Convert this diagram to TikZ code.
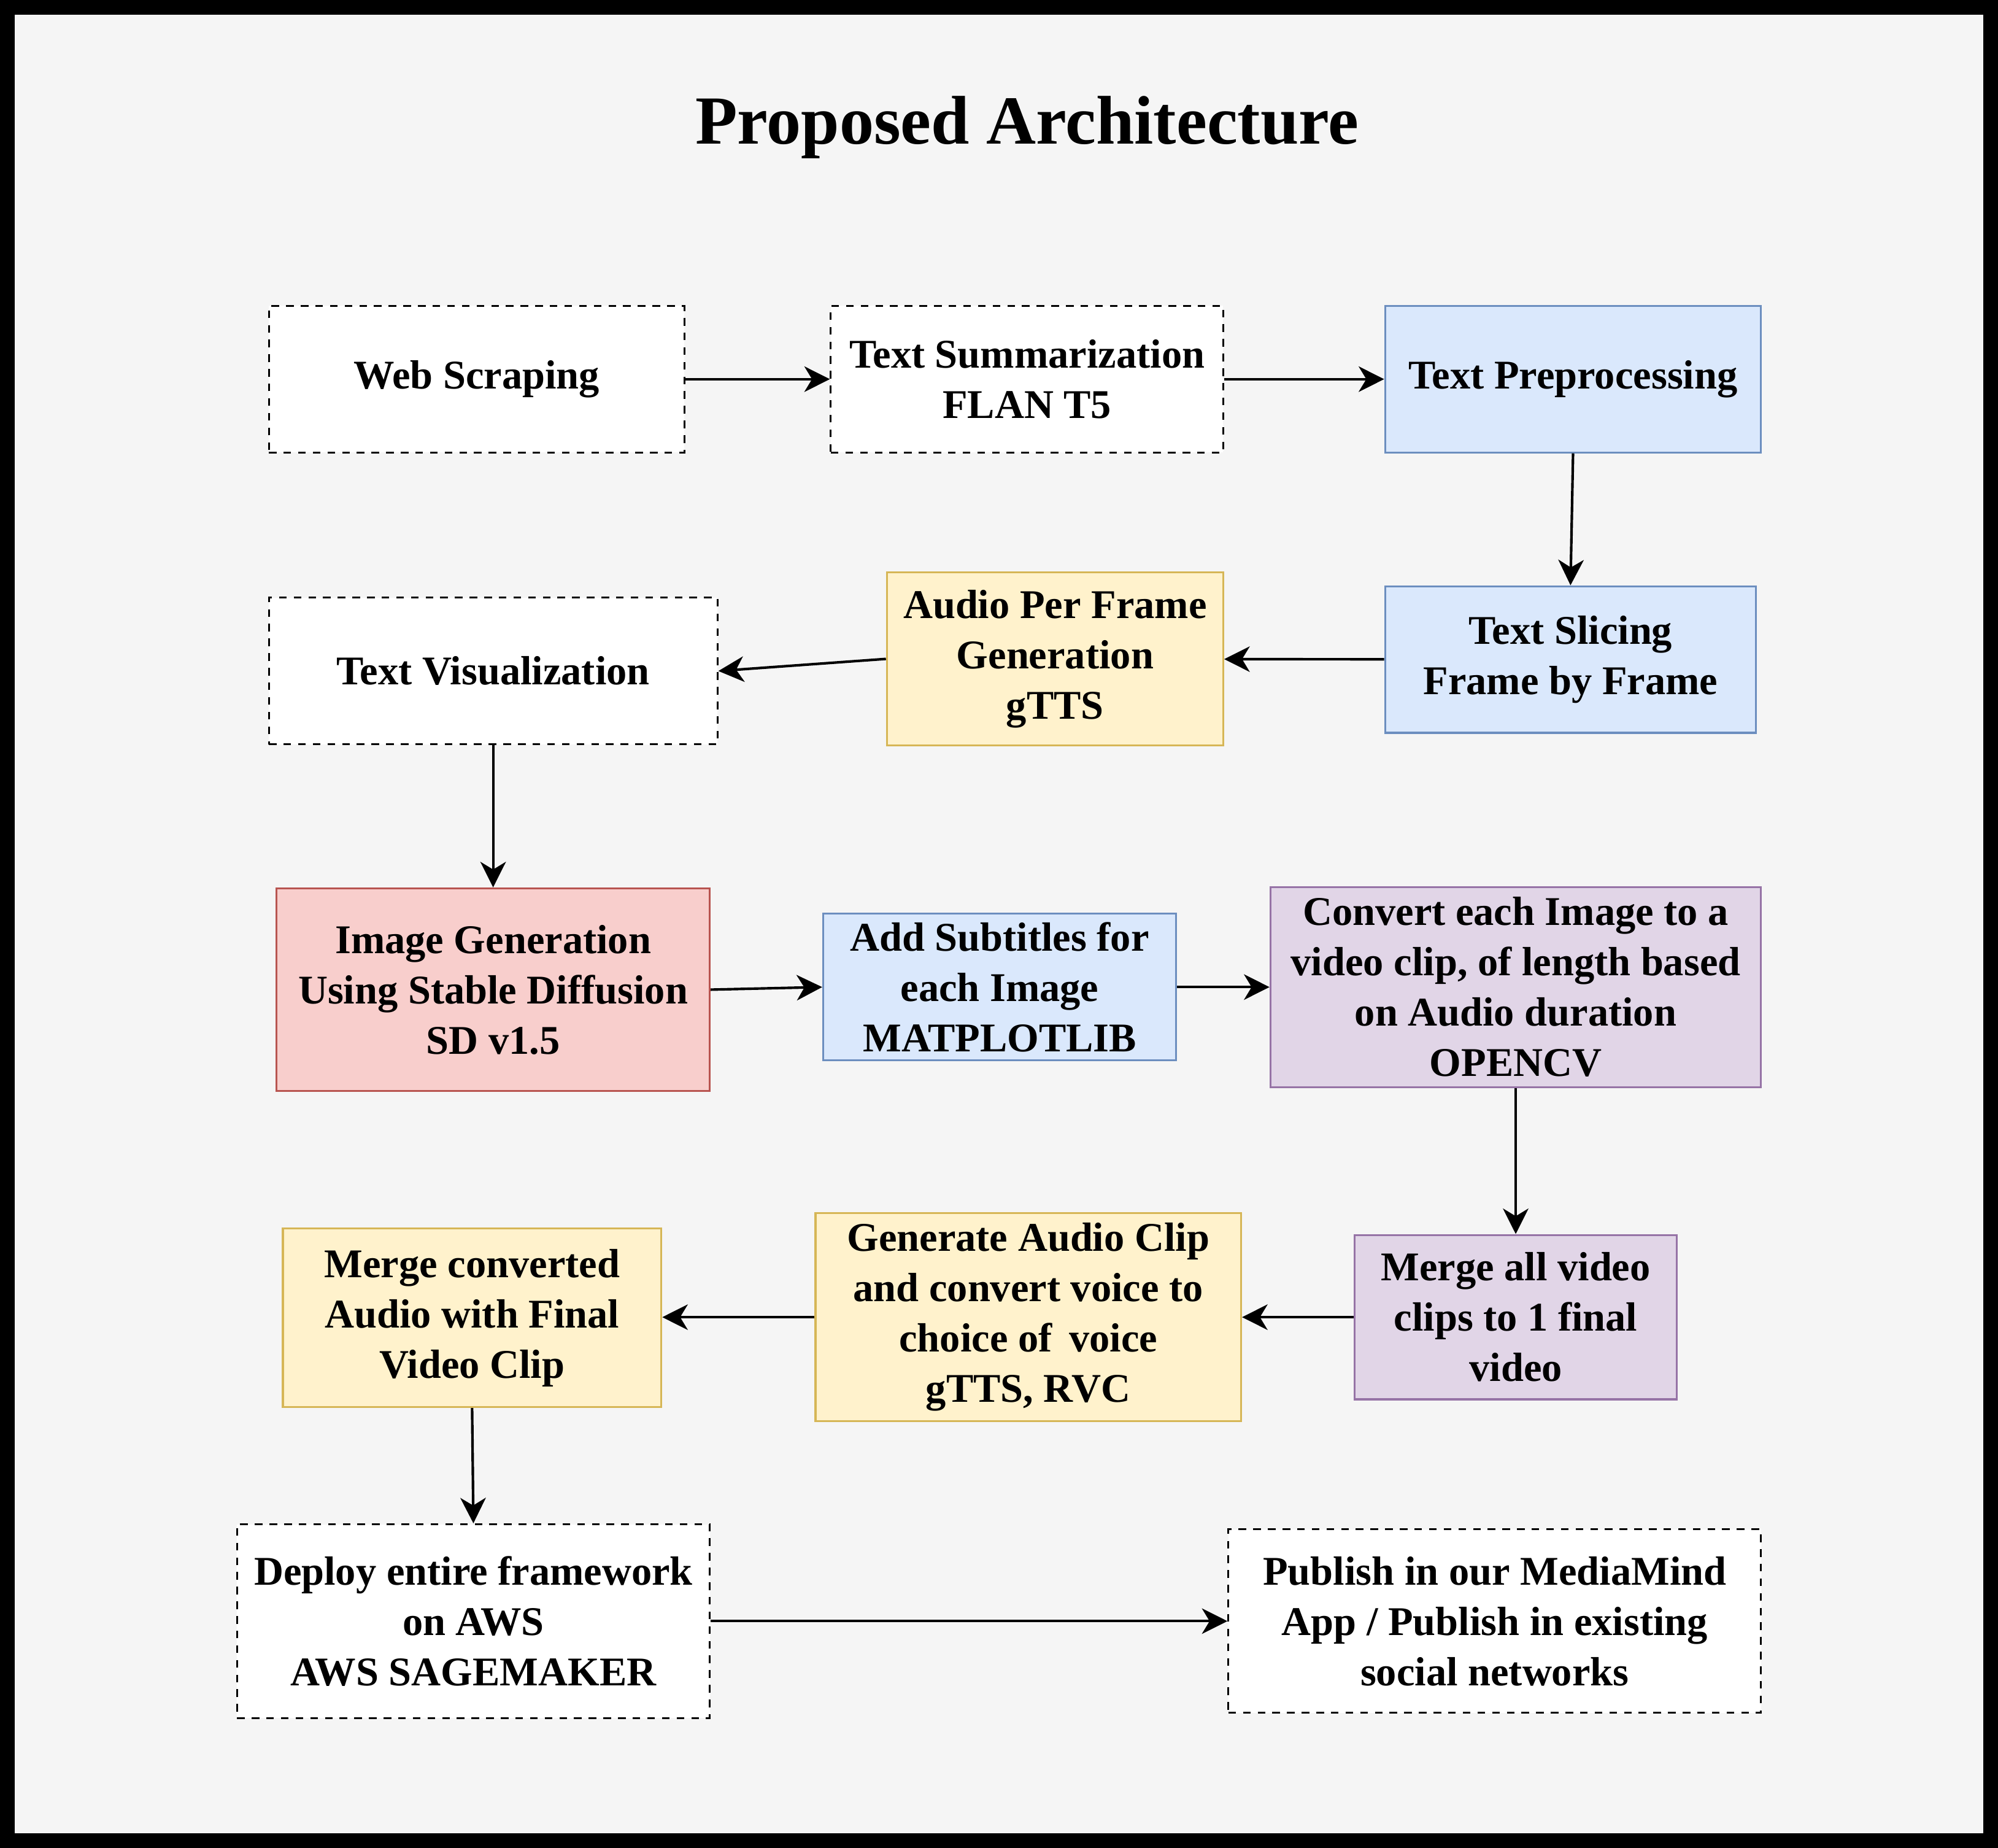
\documentclass[tikz,border=0pt]{standalone}
\usepackage{fontspec}
\setmainfont{Liberation Serif}
\usetikzlibrary{arrows.meta}
\definecolor{bgc}{HTML}{F5F5F5}
\definecolor{bluef}{HTML}{DAE8FC}\definecolor{blued}{HTML}{6C8EBF}
\definecolor{yelf}{HTML}{FFF2CC}\definecolor{yeld}{HTML}{D6B656}
\definecolor{redf}{HTML}{F8CECC}\definecolor{redd}{HTML}{B85450}
\definecolor{purf}{HTML}{E1D5E7}\definecolor{purd}{HTML}{9673A6}
\tikzset{
  box/.style={rectangle, inner sep=0pt, align=center, line width=1.5pt,
    font=\fontsize{32}{39.5}\selectfont\bfseries},
  dbox/.style={box, draw=black, fill=white, dash pattern=on 6pt off 5.5pt},
  bluebox/.style={box, draw=blued, fill=bluef},
  yelbox/.style={box, draw=yeld, fill=yelf},
  redbox/.style={box, draw=redd, fill=redf},
  purbox/.style={box, draw=purd, fill=purf},
  conn/.style={line width=2pt, -{Stealth[length=20pt, width=20pt, inset=6pt]}}
}
\begin{document}
\begin{tikzpicture}[x=1pt,y=-1pt]
\useasboundingbox (0,0) rectangle (1568,1450);
\fill[black] (0,0) rectangle (1568,1450);
\fill[bgc] (11.5,11.5) rectangle (1556.5,1438.5);
\node[font=\fontsize{54}{60}\selectfont\bfseries, inner sep=0pt] (title) at (806,100) {Proposed Architecture};

\node[dbox, minimum width=326pt, minimum height=115pt] (ws) at (374,297.5) {\raisebox{-3pt}{Web Scraping}};
\node[dbox, minimum width=308pt, minimum height=115pt] (ts) at (806,297.5) {Text Summarization\\FLAN T5};
\node[bluebox, minimum width=295pt, minimum height=115pt] (tp) at (1234.5,297.5) {\raisebox{-3pt}{Text Preprocessing}};
\node[bluebox, minimum width=291pt, minimum height=115pt] (sl) at (1232.5,517.5) {Text Slicing\\Frame by Frame};
\node[yelbox, minimum width=264pt, minimum height=136pt] (ap) at (828,517) {Audio Per Frame\\Generation\\gTTS};
\node[dbox, minimum width=352pt, minimum height=115pt] (tv) at (387,526.5) {Text Visualization};
\node[redbox, minimum width=340pt, minimum height=159pt] (ig) at (387,776.5) {Image Generation\\Using Stable Diffusion\\SD v1.5};
\node[bluebox, minimum width=277pt, minimum height=115pt] (as) at (784.5,774.5) {Add Subtitles for\\each Image\\MATPLOTLIB};
\node[purbox, minimum width=385pt, minimum height=157pt] (cv) at (1189.5,774.5) {Convert each Image to a\\video clip, of length based\\on Audio duration\\OPENCV};
\node[purbox, minimum width=253pt, minimum height=129pt] (mv) at (1189.5,1033.5) {Merge all video\\clips to 1 final\\video};
\node[yelbox, minimum width=334pt, minimum height=163pt] (ga) at (807,1033.5) {Generate Audio Clip\\and convert voice to\\choice of\, voice\\gTTS, RVC};
\node[yelbox, minimum width=297pt, minimum height=140pt] (mc) at (370.5,1034) {Merge converted\\Audio with Final\\Video Clip};
\node[dbox, minimum width=371pt, minimum height=152pt] (dp) at (371.5,1272) {Deploy entire framework\\on AWS\\AWS SAGEMAKER};
\node[dbox, minimum width=418pt, minimum height=144pt] (pb) at (1173,1272) {Publish in our MediaMind\\App / Publish in existing\\social networks};

\draw[conn] (ws) -- (ts);
\draw[conn] (ts) -- (tp);
\draw[conn] (tp.south) -- (sl.north);
\draw[conn] (sl) -- (ap);
\draw[conn] (ap.west) -- (tv.east);
\draw[conn] (tv) -- (ig);
\draw[conn] (ig.east) -- (as.west);
\draw[conn] (as) -- (cv);
\draw[conn] (cv) -- (mv);
\draw[conn] (mv) -- (ga);
\draw[conn] (ga.west) -- (mc.east |- ga.west);
\draw[conn] (mc.south) -- (dp.north);
\draw[conn] (dp) -- (pb);
\end{tikzpicture}
\end{document}
